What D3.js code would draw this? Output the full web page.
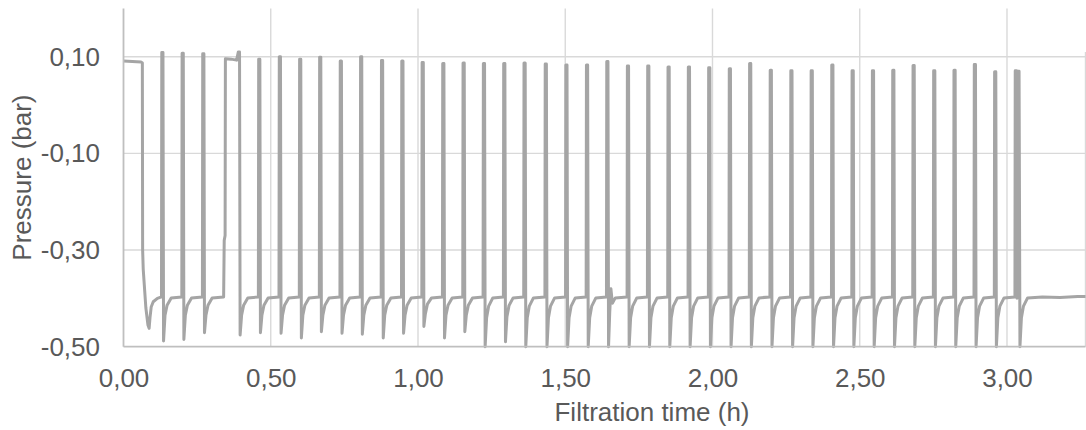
<!DOCTYPE html>
<html>
<head>
<meta charset="utf-8">
<script src="https://cdn.jsdelivr.net/npm/d3@7"></script>
<style>
  body { margin: 0; background: #fff; }
  text { font-family: "Liberation Sans", Arial, sans-serif; fill: #595959; }
</style>
</head>
<body>
<div id="chart"></div>
<script>
// axis ticks
const xTicks = [0, 0.5, 1, 1.5, 2, 2.5, 3];
const yTicks = [-0.5, -0.3, -0.1, 0.1];
const xMax = 3.2666;

// pressure trace: [time (h), pressure (bar)]
const startPhase = [
  [0, 0.091], [0.03, 0.090], [0.060, 0.089], [0.064, 0.087], [0.065, -0.30], [0.067, -0.34],
  [0.076, -0.42], [0.083, -0.455], [0.087, -0.462], [0.090, -0.440], [0.094, -0.418],
  [0.101, -0.407], [0.115, -0.400]
];

// one row per backwash pulse
const backwashCycles = [
  [[0.129,-0.397],[0.130,0.109],[0.134,0.109],[0.136,-0.488],[0.141,-0.435],[0.148,-0.414],[0.162,-0.399]],
  [[0.198,-0.397],[0.199,0.107],[0.203,0.107],[0.205,-0.485],[0.210,-0.435],[0.217,-0.414],[0.231,-0.399]],
  [[0.268,-0.397],[0.269,0.106],[0.273,0.106],[0.275,-0.471],[0.280,-0.435],[0.287,-0.414],[0.301,-0.399]],
  [[0.340,-0.397],[0.342,-0.28],[0.345,-0.27],[0.346,0.096],[0.365,0.095],[0.384,0.093],[0.390,0.110],[0.394,0.110],[0.396,-0.476],[0.401,-0.435],[0.408,-0.414],[0.422,-0.399]],
  [[0.458,-0.397],[0.459,0.095],[0.463,0.095],[0.465,-0.471],[0.470,-0.435],[0.477,-0.414],[0.491,-0.399]],
  [[0.528,-0.397],[0.529,0.100],[0.533,0.100],[0.535,-0.472],[0.540,-0.435],[0.547,-0.414],[0.561,-0.399]],
  [[0.597,-0.397],[0.598,0.095],[0.602,0.095],[0.604,-0.482],[0.609,-0.435],[0.616,-0.414],[0.630,-0.399]],
  [[0.665,-0.397],[0.666,0.099],[0.670,0.099],[0.672,-0.469],[0.677,-0.435],[0.684,-0.414],[0.698,-0.399]],
  [[0.735,-0.397],[0.736,0.091],[0.740,0.091],[0.742,-0.472],[0.747,-0.435],[0.754,-0.414],[0.768,-0.399]],
  [[0.804,-0.397],[0.805,0.100],[0.809,0.100],[0.811,-0.474],[0.816,-0.435],[0.823,-0.414],[0.837,-0.399]],
  [[0.875,-0.397],[0.876,0.092],[0.880,0.092],[0.882,-0.482],[0.887,-0.435],[0.894,-0.414],[0.908,-0.399]],
  [[0.944,-0.397],[0.945,0.091],[0.949,0.091],[0.951,-0.472],[0.956,-0.435],[0.963,-0.414],[0.977,-0.399]],
  [[1.013,-0.397],[1.014,0.088],[1.018,0.088],[1.020,-0.458],[1.025,-0.432],[1.032,-0.412],[1.046,-0.399]],
  [[1.083,-0.397],[1.084,0.086],[1.088,0.086],[1.090,-0.482],[1.095,-0.435],[1.102,-0.414],[1.116,-0.399]],
  [[1.152,-0.397],[1.153,0.087],[1.157,0.087],[1.159,-0.469],[1.164,-0.435],[1.171,-0.414],[1.185,-0.399]],
  [[1.221,-0.397],[1.222,0.086],[1.226,0.086],[1.228,-0.500],[1.233,-0.440],[1.240,-0.416],[1.254,-0.399]],
  [[1.290,-0.397],[1.291,0.086],[1.295,0.086],[1.297,-0.490],[1.302,-0.438],[1.309,-0.415],[1.323,-0.399]],
  [[1.359,-0.397],[1.360,0.087],[1.364,0.087],[1.366,-0.500],[1.371,-0.440],[1.378,-0.416],[1.392,-0.399]],
  [[1.431,-0.397],[1.432,0.085],[1.436,0.085],[1.438,-0.500],[1.443,-0.440],[1.450,-0.416],[1.464,-0.399]],
  [[1.501,-0.397],[1.502,0.083],[1.506,0.083],[1.508,-0.500],[1.513,-0.440],[1.520,-0.416],[1.534,-0.399]],
  [[1.571,-0.397],[1.572,0.083],[1.576,0.083],[1.578,-0.500],[1.583,-0.440],[1.590,-0.416],[1.604,-0.399]],
  [[1.640,-0.397],[1.641,0.090],[1.645,0.090],[1.647,-0.500],[1.651,-0.430],[1.655,-0.380],[1.660,-0.410],[1.670,-0.399]],
  [[1.710,-0.397],[1.711,0.081],[1.715,0.081],[1.717,-0.500],[1.722,-0.440],[1.729,-0.416],[1.743,-0.399]],
  [[1.779,-0.397],[1.780,0.081],[1.784,0.081],[1.786,-0.500],[1.791,-0.440],[1.798,-0.416],[1.812,-0.399]],
  [[1.848,-0.397],[1.849,0.079],[1.853,0.079],[1.855,-0.500],[1.860,-0.440],[1.867,-0.416],[1.881,-0.399]],
  [[1.917,-0.397],[1.918,0.079],[1.922,0.079],[1.924,-0.500],[1.929,-0.440],[1.936,-0.416],[1.950,-0.399]],
  [[1.986,-0.397],[1.987,0.077],[1.991,0.077],[1.993,-0.500],[1.998,-0.440],[2.005,-0.416],[2.019,-0.399]],
  [[2.056,-0.397],[2.057,0.075],[2.061,0.075],[2.063,-0.500],[2.068,-0.440],[2.075,-0.416],[2.089,-0.399]],
  [[2.125,-0.397],[2.126,0.086],[2.130,0.086],[2.132,-0.500],[2.137,-0.440],[2.144,-0.416],[2.158,-0.399]],
  [[2.195,-0.397],[2.196,0.072],[2.200,0.072],[2.202,-0.500],[2.207,-0.440],[2.214,-0.416],[2.228,-0.399]],
  [[2.265,-0.397],[2.266,0.071],[2.270,0.071],[2.272,-0.500],[2.277,-0.440],[2.284,-0.416],[2.298,-0.399]],
  [[2.334,-0.397],[2.335,0.071],[2.339,0.071],[2.341,-0.500],[2.346,-0.440],[2.353,-0.416],[2.367,-0.399]],
  [[2.404,-0.397],[2.405,0.083],[2.409,0.083],[2.411,-0.500],[2.416,-0.440],[2.423,-0.416],[2.437,-0.399]],
  [[2.473,-0.397],[2.474,0.071],[2.478,0.071],[2.480,-0.500],[2.485,-0.440],[2.492,-0.416],[2.506,-0.399]],
  [[2.542,-0.397],[2.543,0.071],[2.547,0.071],[2.549,-0.500],[2.554,-0.440],[2.561,-0.416],[2.575,-0.399]],
  [[2.611,-0.397],[2.612,0.072],[2.616,0.072],[2.618,-0.500],[2.623,-0.440],[2.630,-0.416],[2.644,-0.399]],
  [[2.680,-0.397],[2.681,0.082],[2.685,0.082],[2.687,-0.500],[2.692,-0.440],[2.699,-0.416],[2.713,-0.399]],
  [[2.750,-0.397],[2.751,0.071],[2.755,0.071],[2.757,-0.500],[2.762,-0.440],[2.769,-0.416],[2.783,-0.399]],
  [[2.819,-0.397],[2.820,0.072],[2.824,0.072],[2.826,-0.500],[2.831,-0.440],[2.838,-0.416],[2.852,-0.399]],
  [[2.888,-0.397],[2.889,0.084],[2.893,0.084],[2.895,-0.500],[2.900,-0.440],[2.907,-0.416],[2.921,-0.399]],
  [[2.957,-0.397],[2.958,0.069],[2.962,0.069],[2.964,-0.500],[2.969,-0.440],[2.976,-0.416],[2.990,-0.399]],
  [[3.027,-0.397],[3.028,0.071],[3.032,0.071],[3.034,-0.400],[3.036,0.070],[3.041,0.070],[3.044,-0.500],[3.049,-0.440],[3.056,-0.416],[3.070,-0.399]]
];

const endPhase = [[3.12, -0.397], [3.18, -0.398], [3.24, -0.396], [3.2666, -0.396]];

const width = 1086, height = 430;
const margin = {top: 8.4, right: 0.5, bottom: 83.3, left: 123.5};
const w = width - margin.left - margin.right;
const h = height - margin.top - margin.bottom;
const fontSize = "26px";

const loc = d3.formatLocale({decimal: ",", thousands: ".", grouping: [3], currency: ["", ""], minus: "-"});
const fmt = loc.format(".2f");

const svg = d3.select("#chart")
  .append("svg")
    .attr("width", width)
    .attr("height", height)
    .style("background", "#fff")
  .append("g")
    .attr("transform", "translate(" + margin.left + "," + margin.top + ")");

const x = d3.scaleLinear().domain([0, xMax]).range([0, w]);
const y = d3.scaleLinear().domain([-0.5, 0.2]).range([h, 0]);

// gridlines
svg.append("g")
  .selectAll("line")
  .data(xTicks.filter(d => d > 0))
  .join("line")
    .attr("x1", d => x(d)).attr("x2", d => x(d))
    .attr("y1", 0).attr("y2", h)
    .attr("stroke", "#d9d9d9").attr("stroke-width", 1.4);

svg.append("g")
  .selectAll("line")
  .data(yTicks.filter(d => d > -0.5))
  .join("line")
    .attr("x1", 0).attr("x2", w)
    .attr("y1", d => y(d)).attr("y2", d => y(d))
    .attr("stroke", "#d9d9d9").attr("stroke-width", 1.4);

// right edge of the plot
svg.append("line")
  .attr("x1", w).attr("x2", w)
  .attr("y1", y(0.11)).attr("y2", h)
  .attr("stroke", "#d9d9d9").attr("stroke-width", 1.4);

// trace
const trace = startPhase.concat(...backwashCycles, endPhase);
svg.append("path")
  .datum(trace)
  .attr("fill", "none")
  .attr("stroke", "#a5a5a5")
  .attr("stroke-width", 3)
  .attr("stroke-linejoin", "round")
  .attr("d", d3.line().x(d => x(d[0])).y(d => y(d[1])));

// axis lines
svg.append("line")
  .attr("x1", 0).attr("x2", 0).attr("y1", 0).attr("y2", h)
  .attr("stroke", "#bfbfbf").attr("stroke-width", 1.8);
svg.append("line")
  .attr("x1", 0).attr("x2", w).attr("y1", h).attr("y2", h)
  .attr("stroke", "#bfbfbf").attr("stroke-width", 1.8);

const xaxis = svg.append("g")
  .attr("transform", "translate(0," + h + ")")
  .call(d3.axisBottom(x).tickValues(xTicks).tickFormat(fmt).tickSize(0).tickPadding(21.8));
const yaxis = svg.append("g")
  .call(d3.axisLeft(y).tickValues(yTicks).tickFormat(fmt).tickSize(0).tickPadding(23.5));

[xaxis, yaxis].forEach(g => {
  g.select(".domain").remove();
  g.attr("font-family", null).attr("font-size", null);
  g.selectAll("text").style("font-size", fontSize).attr("fill", "#595959");
});

// axis titles
svg.append("text")
  .attr("x", 652 - margin.left)
  .attr("y", 421 - margin.top)
  .attr("text-anchor", "middle")
  .style("font-size", fontSize)
  .text("Filtration time (h)");

svg.append("text")
  .attr("transform", "translate(" + (30.5 - margin.left) + "," + (h / 2) + ") rotate(-90)")
  .attr("text-anchor", "middle")
  .style("font-size", fontSize)
  .text("Pressure (bar)");
</script>
</body>
</html>
